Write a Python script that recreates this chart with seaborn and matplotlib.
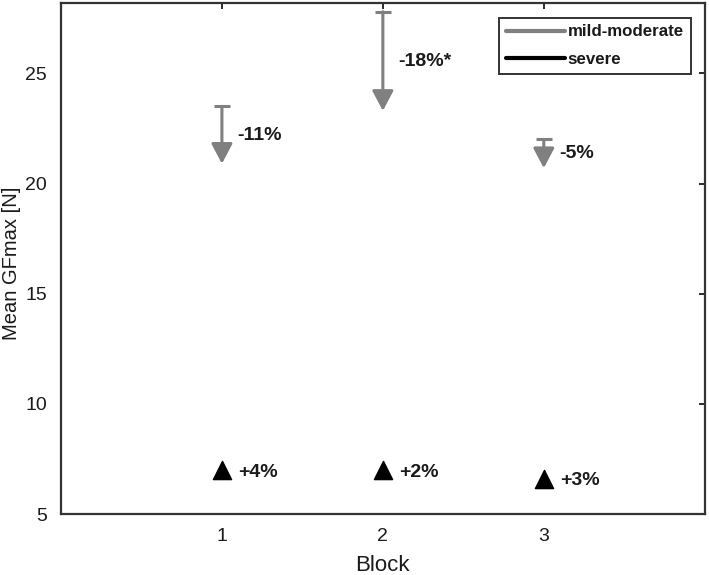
import matplotlib
matplotlib.use("Agg")
import matplotlib.pyplot as plt
from matplotlib.lines import Line2D
import seaborn as sns
import pandas as pd

blocks = [1, 2, 3]
mild_start = [23.5, 27.8, 22.0]
mild_end = [20.9, 23.3, 20.7]
mild_labels = ["-11%", "-18%*", "-5%"]
severe_vals = [7.0, 7.0, 6.6]
severe_labels = ["+4%", "+2%", "+3%"]

sns.set_style("white")
plt.rcParams['font.family'] = ['Liberation Sans', 'DejaVu Sans']

fig = plt.figure(figsize=(7.09, 5.75), dpi=100)
ax = fig.add_axes([0.086, 0.106, 0.908, 0.889])

gray = "#808080"
txt = "#1a1a1a"
# arrows for mild-moderate
for b, s, e in zip(blocks, mild_start, mild_end):
    ax.annotate("", xy=(b, e), xytext=(b, s),
                arrowprops=dict(arrowstyle="-|>,head_width=0.46,head_length=0.87",
                                color=gray, lw=2.2, shrinkA=0, shrinkB=0,
                                mutation_scale=14))
cap_df = pd.DataFrame({"Block": blocks, "val": mild_start})
sns.scatterplot(data=cap_df, x="Block", y="val", marker="_", s=130,
                color=gray, linewidth=2.2, ax=ax, legend=False, zorder=3)
for b, s, e, lab in zip(blocks, mild_start, mild_end, mild_labels):
    ax.text(b + 0.095, (s + e) / 2, lab, fontsize=14, fontweight="bold",
            va="center", ha="left", color=txt)

sev_df = pd.DataFrame({"Block": blocks, "val": severe_vals})
sns.scatterplot(data=sev_df, x="Block", y="val", marker="^", s=170,
                color="black", edgecolor="black", ax=ax, legend=False, zorder=3)
for b, v, lab in zip(blocks, severe_vals, severe_labels):
    ax.text(b + 0.1, v - 0.1, lab, fontsize=14, fontweight="bold",
            va="center", ha="left", color=txt)

ax.set_xlim(0, 4)
ax.set_ylim(5, 28.2)
ax.set_xticks([1, 2, 3])
ax.set_yticks([5, 10, 15, 20, 25])
ax.tick_params(direction="in", length=4, width=1.3, top=True, right=True,
               labelsize=14, colors=txt, pad=10)
ax.set_xlabel("Block", fontsize=16, color=txt, labelpad=7)
ax.set_ylabel("Mean GFmax [N]", fontsize=14.5, color=txt)
ax.yaxis.set_label_coords(-0.062, 0.49)
for sp in ax.spines.values():
    sp.set_color("#333333")
    sp.set_linewidth(1.6)

handles = [Line2D([0], [0], color=gray, lw=3), Line2D([0], [0], color="black", lw=3)]
leg = ax.legend(handles, ["mild-moderate", "severe"], loc="upper right",
                bbox_to_anchor=(0.978, 0.971), fancybox=False, framealpha=1,
                edgecolor="#333333", handlelength=3.5, handletextpad=0.15,
                borderpad=0.4, borderaxespad=0, labelspacing=0.75,
                prop={"size": 12.2, "weight": "bold"})
leg.get_frame().set_linewidth(1.4)
for t in leg.get_texts():
    t.set_color(txt)

fig.savefig("out.png", dpi=100)
